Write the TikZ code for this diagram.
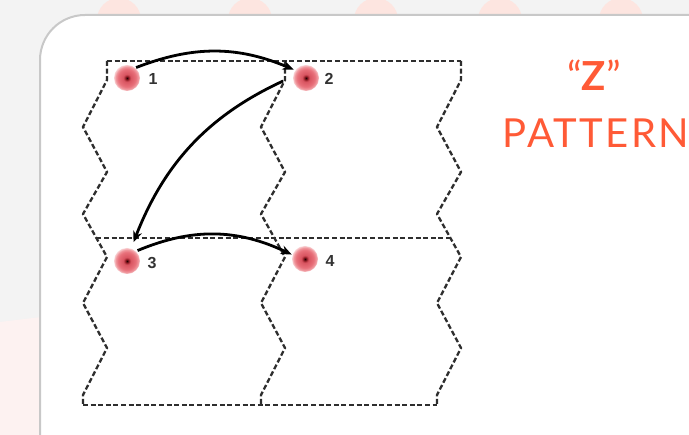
\documentclass[tikz,border=0pt]{standalone}
\usepackage{fontspec}
\setmainfont{Liberation Sans}
\newfontfamily\titlefont{Lato}
\newfontfamily\titlespaced{Lato}[LetterSpace=6]
\usetikzlibrary{arrows.meta}
\definecolor{bgc}{HTML}{F3F3F3}
\definecolor{blobc}{HTML}{FDE5E0}
\definecolor{pinkc}{HTML}{FDF2F1}
\definecolor{cardborder}{HTML}{C8C8C8}
\definecolor{titlec}{HTML}{FF5A36}
\definecolor{dotc}{HTML}{1E0000}
\definecolor{dotm}{HTML}{8A1820}
\definecolor{dotr}{HTML}{D85460}
\definecolor{dotp}{HTML}{E8707A}
\definecolor{dotq}{HTML}{F09AA0}
\definecolor{dotw}{HTML}{F9D2D4}
\pgfdeclareradialshading{dotshade}{\pgfpoint{0bp}{0bp}}{color(0bp)=(dotc); color(3bp)=(dotm); color(7bp)=(dotr); color(17bp)=(dotp); color(22bp)=(dotq); color(25bp)=(dotw); color(50bp)=(white)}
\tikzset{
  dot/.style={circle, minimum size=26pt, inner sep=0pt, outer sep=0pt, shading=dotshade},
  lab/.style={font=\fontsize{16}{16}\selectfont\bfseries, text=black!80, inner sep=0pt},
  dashline/.style={draw=black!82, line width=2.3pt, dash pattern=on 5pt off 2.6pt, line join=round},
  arr/.style={-{Stealth[length=11pt,width=9pt]}, line width=2.8pt, draw=black},
  titletext/.style={text=titlec, inner sep=0pt, anchor=base}
}
\begin{document}
\begin{tikzpicture}[x=1pt,y=-1pt]
\useasboundingbox (0,0) rectangle (689,435);
\clip (0,0) rectangle (689,435);
% background
\fill[bgc] (0,0) rectangle (689,435);
\foreach \cx in {119,250,376,500,621} \fill[blobc] (\cx,20) circle[radius=22];
\fill[pinkc] (0,322) -- (50,316) -- (50,435) -- (0,435) -- cycle;
% card
\draw[fill=white, draw=cardborder, line width=2pt, rounded corners=45pt] (40,15) rectangle (760,482);
% zigzag columns
\foreach \lx in {83,261,437} {
  \draw[dashline] (\lx+24,61) -- (\lx+24,80) -- (\lx,127) -- (\lx+24,172) -- (\lx,214) -- (\lx+24,257) -- (\lx,303) -- (\lx+24,348) -- (\lx,395) -- (\lx,405);
}
\draw[dashline] (107,61) -- (461,61);
\draw[dashline] (96.4,238) -- (450.4,238);
\draw[dashline] (83,405) -- (437,405);
% dots
\node[dot] (d1) at (127,78) {};
\node[dot] (d2) at (306,78) {};
\node[dot] (d3) at (127,261) {};
\node[dot] (d4) at (305,259) {};
\node[lab] (l1) at (153,79) {1};
\node[lab] (l2) at (329,79) {2};
\node[lab] (l3) at (152,263) {3};
\node[lab] (l4) at (330,261) {4};
% arrows
\draw[arr, shorten <=1pt, shorten >=2pt] (d1.51) to[bend left=22] (d2.144);
\draw[arr, shorten <=11pt, shorten >=7pt] (d2.173) to[bend right=22] (d3.72);
\draw[arr, shorten <=2pt, shorten >=1pt] (d3.48) to[bend left=24] (d4.162);
% title
\node[titletext, font=\titlefont\fontsize{40}{40}\selectfont] (tz) at (594,91) {“\textbf{Z}”};
\node[titletext, font=\titlespaced\fontsize{40}{40}\selectfont] (tp) at (596,148) {PATTERN};
\end{tikzpicture}
\end{document}
